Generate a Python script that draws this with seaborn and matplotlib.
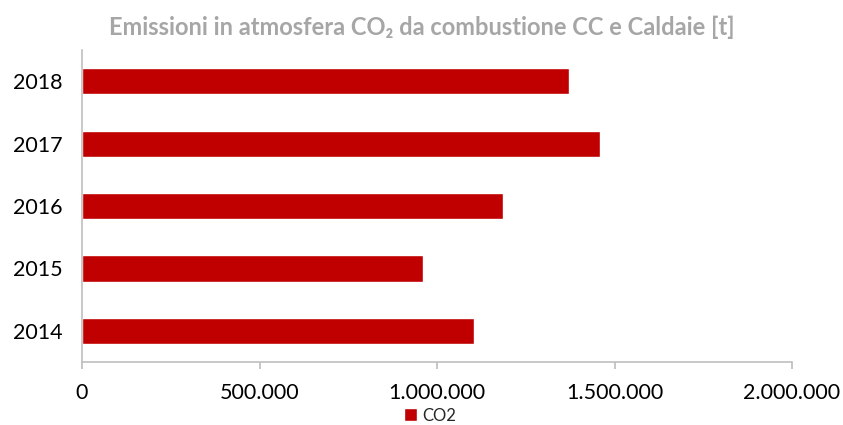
import matplotlib
matplotlib.use("Agg")
import matplotlib.pyplot as plt
import matplotlib.ticker as mticker
import seaborn as sns
import pandas as pd

years = ["2014", "2015", "2016", "2017", "2018"]
co2 = [1104000, 961000, 1186000, 1459000, 1372000]

df = pd.DataFrame({"anno": years, "CO2": co2})
order = years[::-1]

sns.set_theme(style="white")
plt.rcParams["font.family"] = ["Lato", "DejaVu Sans"]

fig = plt.figure(figsize=(8.43, 4.25), dpi=100)
ax = fig.add_axes([0.0973, 0.148, 0.8422, 0.7344])

sns.barplot(data=df, x="CO2", y="anno", order=order, color="#C00000",
            width=0.42, ax=ax, orient="h", saturation=1, label="CO2")

ax.set_xlim(0, 2000000)
ax.set_ylim(4.5, -0.5)
ax.set_xticks([0, 500000, 1000000, 1500000, 2000000])
ax.xaxis.set_major_formatter(mticker.FuncFormatter(
    lambda v, p: f"{int(v):,}".replace(",", ".")))
ax.set_xlabel("")
ax.set_ylabel("")

for s in ["top", "right"]:
    ax.spines[s].set_visible(False)
for s in ["left", "bottom"]:
    ax.spines[s].set_color("#BFBFBF")
    ax.spines[s].set_linewidth(1.2)

ax.tick_params(axis="x", which="both", bottom=True, length=5, color="#BFBFBF",
               labelsize=15.5, pad=10, labelcolor="#000000")
ax.tick_params(axis="y", left=False, length=0, labelsize=15.5, pad=14,
               labelcolor="#000000")

fig.text(0.5, 0.935, "Emissioni in atmosfera CO\u2082 da combustione CC e Caldaie [t]",
         ha="center", va="center", fontsize=17, fontweight="bold", color="#A6A6A6")

ax.legend(loc="center", bbox_to_anchor=(0.51, 0.022), bbox_transform=fig.transFigure,
          frameon=False, fontsize=12, handlelength=0.8, handleheight=0.8,
          handletextpad=0.3, borderpad=0)

fig.savefig("out.png", dpi=100)
